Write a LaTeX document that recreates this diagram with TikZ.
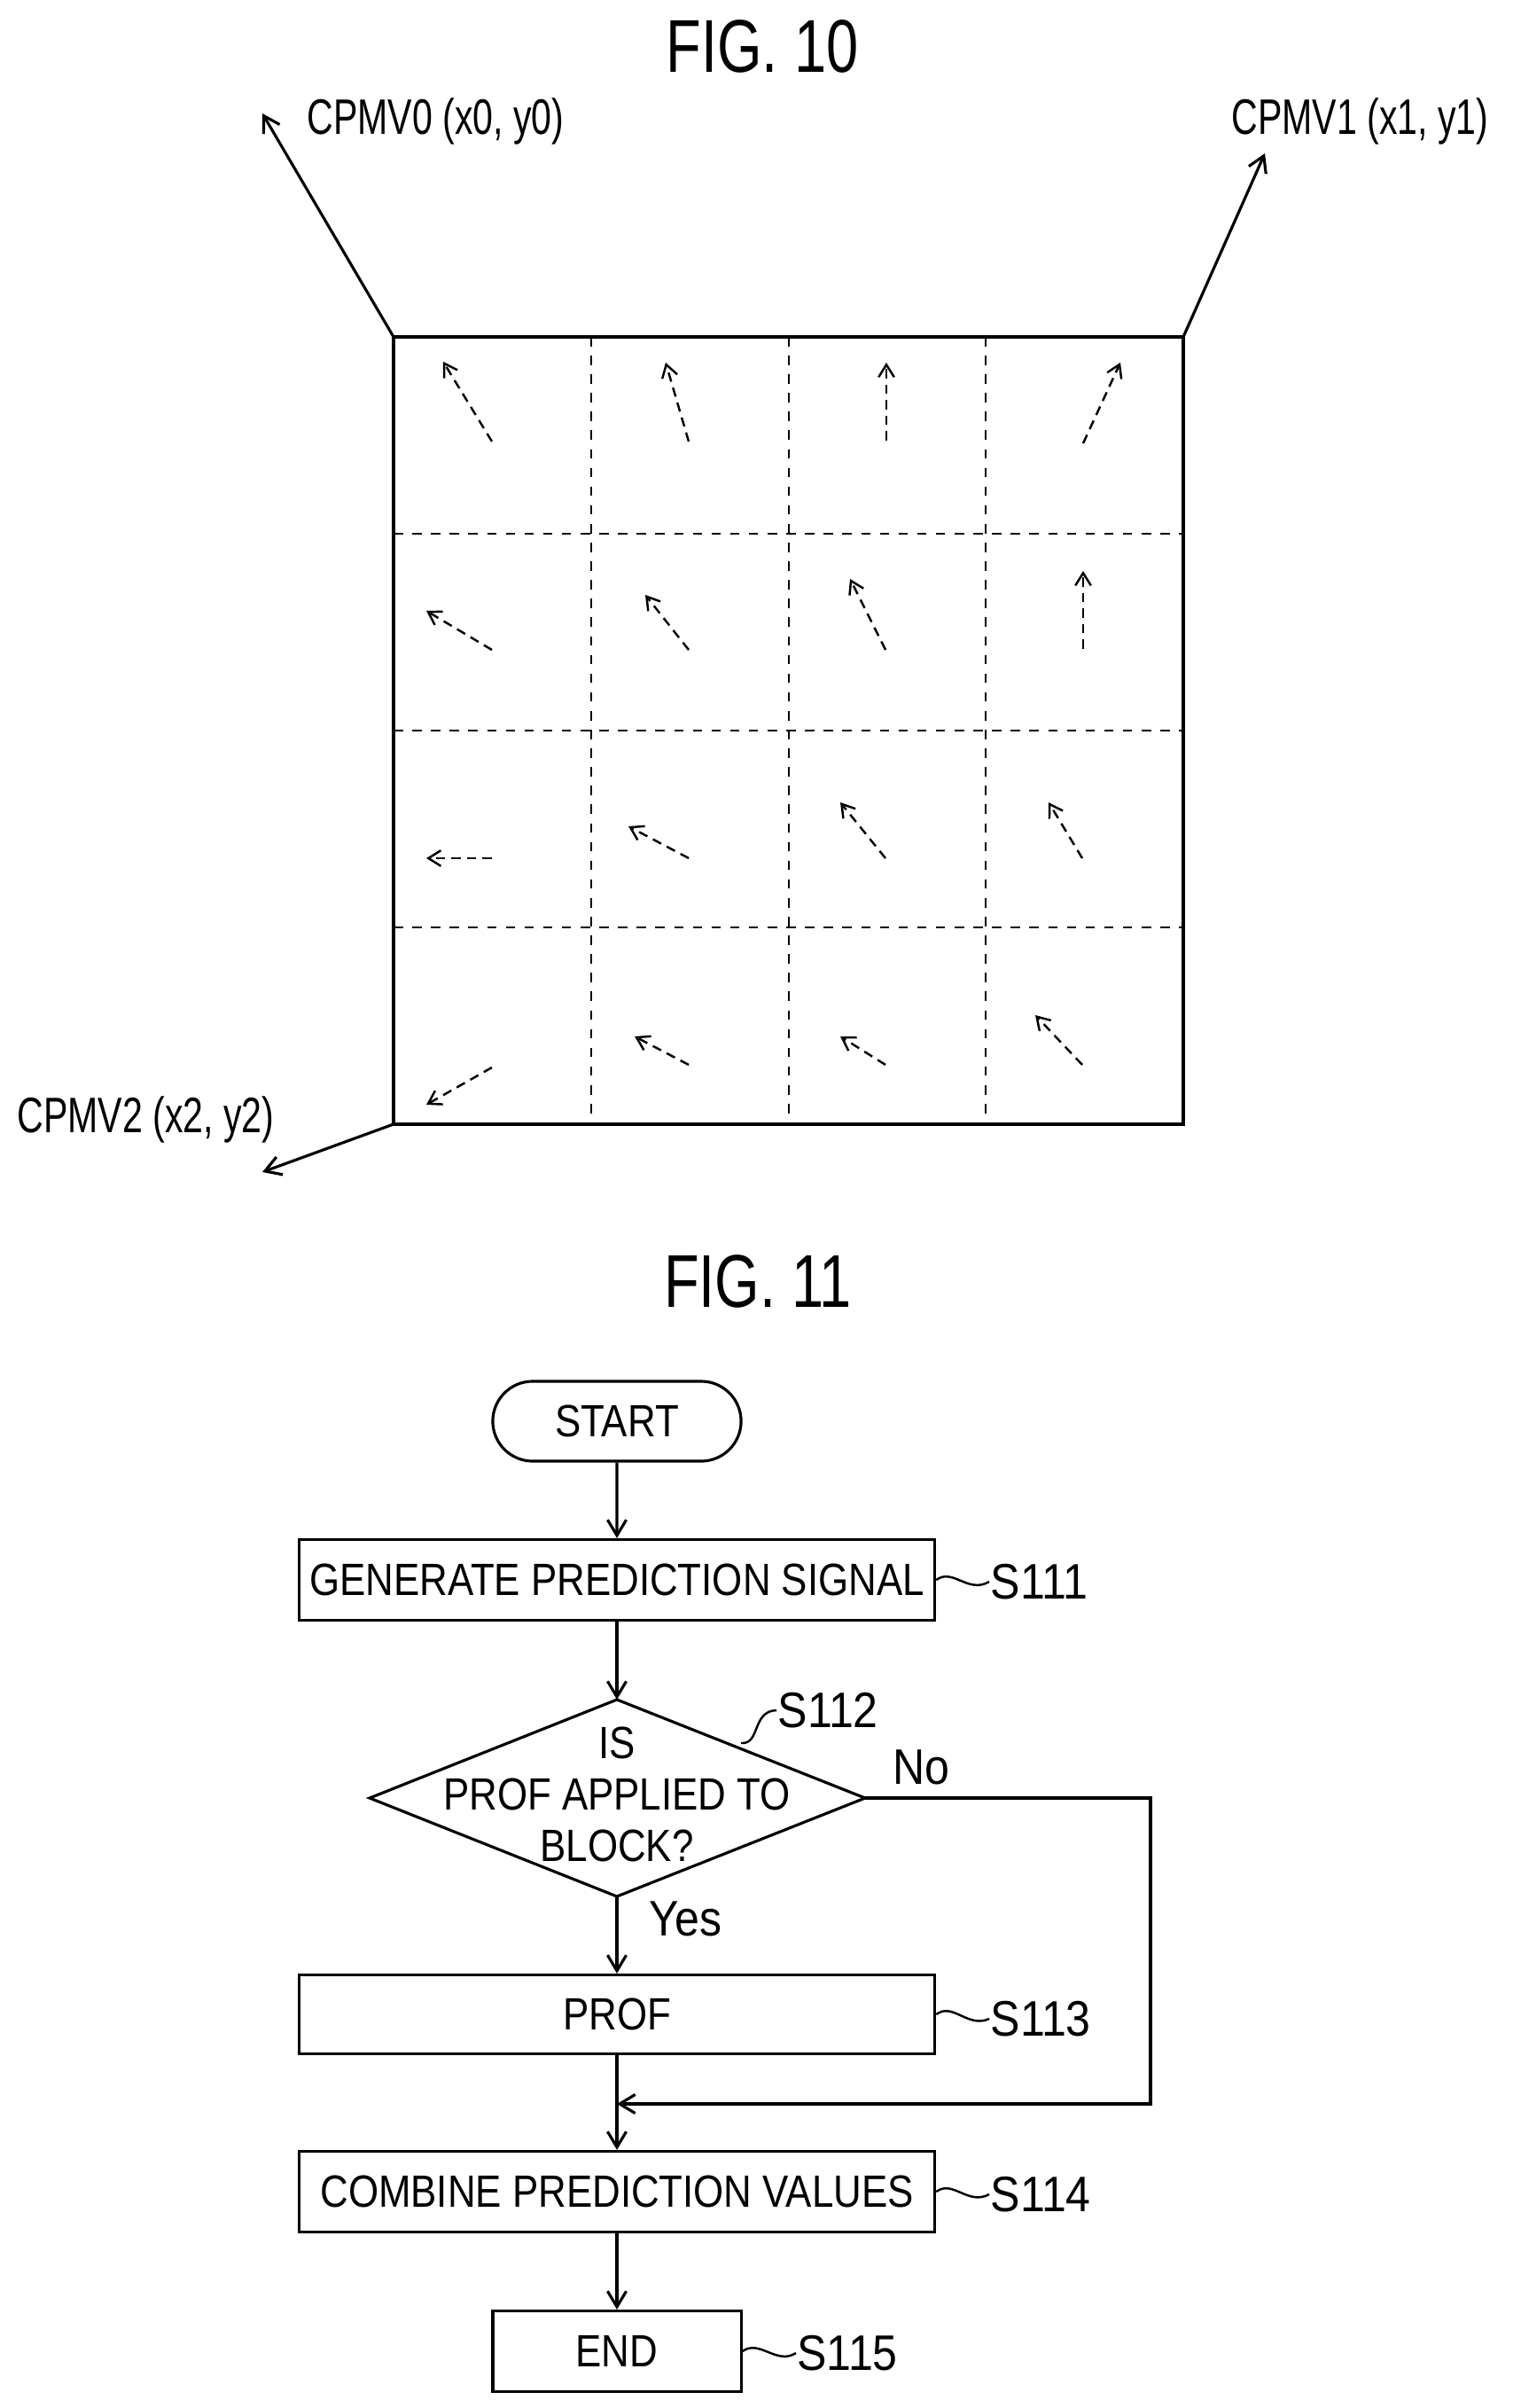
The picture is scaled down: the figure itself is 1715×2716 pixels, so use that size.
\documentclass[tikz,border=0pt]{standalone}
\usepackage{fontspec}
\setmainfont{Liberation Sans}
\usetikzlibrary{arrows.meta,shapes.geometric,shapes.misc}
\begin{document}
\begin{tikzpicture}[x=0.01cm,y=-0.01cm,
  line width=0.9pt,
  arr/.style={-{Straight Barb[length=5pt,width=6pt]}},
  sarr/.style={densely dashed,line width=0.7pt,-{Straight Barb[length=4pt,width=5pt]}},
  ft/.style={font=\fontsize{14.5}{17}\selectfont},
  box/.style={draw,rectangle,minimum width=7.17cm,minimum height=0.91cm,inner sep=0pt,ft},
  lbl/.style={anchor=west,inner sep=0pt,font=\fontsize{16}{18}\selectfont},
  cp/.style={inner sep=0pt,font=\fontsize{16}{18}\selectfont},
  fig/.style={inner sep=0pt,font=\fontsize{24}{28}\selectfont}]
\useasboundingbox (0,0) rectangle (1715,2716);
% FIG 10
\node[fig] (f10) at (860,52) {\scalebox{0.77}[1]{FIG. 10}};
\draw (444,380) rectangle (1335,1268);
\foreach \x in {667,890,1112} \draw[dashed,line width=0.7pt] (\x,380) -- (\x,1268);
\foreach \y in {602,824,1046} \draw[dashed,line width=0.7pt] (444,\y) -- (1335,\y);
\coordinate (c0) at (444,380); \coordinate (c1) at (1335,380); \coordinate (c2) at (444,1268);
\coordinate (t0) at (296,128); \coordinate (t1) at (1427,173); \coordinate (t2) at (296,1322);
\draw[arr] (c0) -- (t0);
\draw[arr] (c1) -- (t1);
\draw[arr] (c2) -- (t2);
\node[cp,anchor=west] (l0) at (345,137) {\scalebox{0.73}[1]{CPMV0 (x0, y0)}};
\node[cp,anchor=west] (l1) at (1388,137) {\scalebox{0.73}[1]{CPMV1 (x1, y1)}};
\node[cp,anchor=west] (l2) at (18,1263) {\scalebox{0.73}[1]{CPMV2 (x2, y2)}};
% small motion vectors
\foreach \a/\b/\c/\d in {555/498/500/408, 777/498/751/409, 1000/497/1000/409, 1222/500/1264/409,
  555/733/481/689, 777/733/728/671, 999/733/959/653, 1222/732/1222/644,
  555/968/481/968, 777/968/709/932, 999/968/948/905, 1221/968/1183/905,
  555/1204/481/1246, 777/1201/716/1169, 999/1201/948/1169, 1221/1201/1168/1145}
  \draw[sarr] (\a,\b) -- (\c,\d);
% FIG 11
\node[fig] (f11) at (855,1445) {\scalebox{0.77}[1]{FIG. 11}};
\node[draw,rounded rectangle,minimum width=2.8cm,minimum height=0.9cm,inner sep=0pt,ft] (start) at (696,1603) {\scalebox{0.86}[1]{START}};
\node[box] (gps) at (696,1782) {\scalebox{0.86}[1]{GENERATE PREDICTION SIGNAL}};
\coordinate (dt) at (696,1917);
\coordinate (db) at (696,2139);
\coordinate (dl) at (417,2028);
\coordinate (dr) at (976,2028);
\draw (dt) -- (dr) -- (db) -- (dl) -- cycle;
\node[inner sep=0pt,align=center,font=\fontsize{14.5}{16.5}\selectfont] (dec) at (696,2024) {\scalebox{0.86}[1]{IS}\\\scalebox{0.86}[1]{PROF APPLIED TO}\\\scalebox{0.86}[1]{BLOCK?}};
\node[box,minimum height=0.89cm] (prof) at (696,2272) {\scalebox{0.86}[1]{PROF}};
\node[box] (comb) at (696,2472) {\scalebox{0.86}[1]{COMBINE PREDICTION VALUES}};
\node[draw,rectangle,minimum width=2.8cm,minimum height=0.91cm,inner sep=0pt,ft] (end) at (696,2652) {\scalebox{0.86}[1]{END}};
\coordinate (merge) at (696,2373);
\coordinate (nr) at (1298,2028);
\coordinate (nb) at (1298,2373);
\draw[arr] (start) -- (gps);
\draw[arr] (gps) -- (dt);
\draw[arr] (db) -- (prof);
\draw[arr] (prof) -- (comb);
\draw[arr] (comb) -- (end);
\draw[arr] (dr) -- (nr) -- (nb) -- (merge);
\node[lbl] (yes) at (731,2164) {\scalebox{0.89}[1]{Yes}};
\node[lbl] (no) at (1006,1993) {\scalebox{0.89}[1]{No}};
\node[lbl] (s111) at (1116,1784) {\scalebox{0.89}[1]{S111}};
\node[lbl] (s112) at (876,1929) {\scalebox{0.89}[1]{S112}};
\node[lbl] (s113) at (1116,2277) {\scalebox{0.89}[1]{S113}};
\node[lbl] (s114) at (1116,2475) {\scalebox{0.89}[1]{S114}};
\node[lbl] (s115) at (898,2654) {\scalebox{0.89}[1]{S115}};
\draw[line width=0.7pt] (gps.east) .. controls (1075,1768) and (1092,1798) .. (s111.west);
\draw[line width=0.7pt] (prof.east) .. controls (1075,2258) and (1092,2288) .. (s113.west);
\draw[line width=0.7pt] (comb.east) .. controls (1075,2458) and (1092,2488) .. (s114.west);
\draw[line width=0.7pt] (end.east) .. controls (857,2638) and (876,2668) .. (s115.west);
\draw[line width=0.7pt] (836,1966) .. controls (858,1968) and (848,1930) .. (s112.west);
\end{tikzpicture}
\end{document}
